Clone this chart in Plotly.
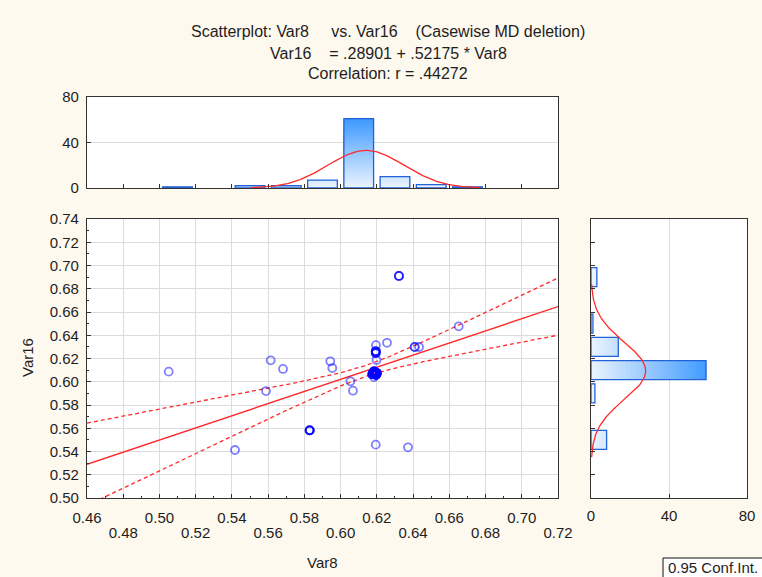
import numpy as np
import plotly.graph_objects as go

# ---------------- data ----------------
# scatter points (repeated entries = overlapping cases)
var8 = [0.5051, 0.5417, 0.5588, 0.5614, 0.5682,
        0.5829, 0.5829, 0.5829, 0.5829, 0.5829,
        0.5943, 0.5954, 0.6054, 0.6068,
        0.6195, 0.6194, 0.6194, 0.6194, 0.6194,
        0.6194, 0.6194, 0.6194, 0.6198, 0.6256,
        0.6322, 0.6322, 0.6322, 0.6194, 0.6372,
        0.6409, 0.6409, 0.6433, 0.6652, 0.6185,
        0.6180, 0.6180, 0.6180, 0.6180, 0.6180, 0.6180,
        0.6190, 0.6190, 0.6190, 0.6190, 0.6190, 0.6190, 0.6190, 0.6190,
        0.6195, 0.6195, 0.6195, 0.6195, 0.6195, 0.6195,
        0.6185, 0.6185, 0.6185, 0.6185, 0.6185,
        0.6200, 0.6200, 0.6200, 0.6200, 0.6200,
        0.6175, 0.6175, 0.6175, 0.6175]
var16 = [0.6087, 0.5413, 0.5920, 0.6184, 0.6110,
         0.5582, 0.5582, 0.5582, 0.5582, 0.5582,
         0.6176, 0.6118, 0.6004, 0.5923,
         0.6315, 0.6262, 0.6262, 0.6262, 0.6262,
         0.6247, 0.6247, 0.6247, 0.6187, 0.6335,
         0.6910, 0.6910, 0.6910, 0.5459, 0.5436,
         0.6299, 0.6299, 0.6299, 0.6477, 0.6040,
         0.6080, 0.6080, 0.6080, 0.6080, 0.6080, 0.6080,
         0.6070, 0.6070, 0.6070, 0.6070, 0.6070, 0.6070, 0.6070, 0.6070,
         0.6060, 0.6060, 0.6060, 0.6060, 0.6060, 0.6060,
         0.6090, 0.6090, 0.6090, 0.6090, 0.6090,
         0.6075, 0.6075, 0.6075, 0.6075, 0.6075,
         0.6065, 0.6065, 0.6065, 0.6065]

# histogram of Var8 (top)
var8_bins = [0.51, 0.55, 0.57, 0.59, 0.61, 0.63, 0.65, 0.67]
var8_counts = [1, 2, 2, 7, 61, 10, 3, 1]
# histogram of Var16 (right)
var16_bins = [0.55, 0.59, 0.61, 0.63, 0.65, 0.69]
var16_counts = [8, 2, 59, 14, 1, 3]

# regression statistics
n_cases = 87
intercept = 0.28901
slope = 0.52175
r_corr = 0.44272
mean8 = 0.614
sd8 = 0.021
bin_w = 0.02
t_crit = 1.988

x_ticks = [0.46, 0.48, 0.50, 0.52, 0.54, 0.56, 0.58, 0.60, 0.62, 0.64, 0.66, 0.68, 0.70, 0.72]
x_ticks_row1 = x_ticks[0::2]
x_ticks_row2 = x_ticks[1::2]
y_ticks = [0.50, 0.52, 0.54, 0.56, 0.58, 0.60, 0.62, 0.64, 0.66, 0.68, 0.70, 0.72, 0.74]
count_ticks = [0, 40, 80]

# ---------------- derived ----------------
sd16 = sd8 * slope / r_corr
mean16 = intercept + slope * mean8
sxx = (n_cases - 1) * sd8 ** 2
se = sd16 * np.sqrt(1 - r_corr ** 2) * np.sqrt((n_cases - 1) / (n_cases - 2))

W, H = 762, 577
FONT = "Liberation Sans, Arial, sans-serif"
TXT = "#1e1e1e"
BG = "#FEF9EE"
RED = "#FF2A2A"
BAR_LINE = "#2362D6"


def px(xp):
    return xp / W


def py(yp):
    return 1 - yp / H


fig = go.Figure()

# ---- main scatter ----
xl = np.linspace(x_ticks[0], x_ticks[-1], 200)
yl = intercept + slope * xl
hw = t_crit * se * np.sqrt(1 / n_cases + (xl - mean8) ** 2 / sxx)
fig.add_trace(go.Scatter(x=xl, y=yl + hw, mode="lines",
                         line=dict(color=RED, width=1.3, dash="4px,3px"),
                         xaxis="x", yaxis="y", showlegend=False))
fig.add_trace(go.Scatter(x=xl, y=yl - hw, mode="lines",
                         line=dict(color=RED, width=1.3, dash="4px,3px"),
                         xaxis="x", yaxis="y", showlegend=False))
fig.add_trace(go.Scatter(x=xl, y=yl, mode="lines",
                         line=dict(color=RED, width=1.4),
                         xaxis="x", yaxis="y", showlegend=False))
for xv, yv in zip(var8, var16):
    fig.add_trace(go.Scatter(x=[xv], y=[yv], mode="markers",
                             marker=dict(symbol="circle-open", size=8,
                                         color="rgba(0,0,255,0.5)",
                                         line=dict(width=1.8)),
                             xaxis="x", yaxis="y", showlegend=False))
# carrier for the second row of x tick labels
fig.add_trace(go.Scatter(x=x_ticks_row2, y=[None] * len(x_ticks_row2), mode="markers",
                         xaxis="x4", yaxis="y", showlegend=False, hoverinfo="skip"))


# ---- gradient bars (value-based gradient) ----
def grad_color(v, vmax=62.0):
    t = min(max(v / vmax, 0), 1)
    c0 = np.array([236, 245, 255])
    c1 = np.array([58, 152, 255])
    c = c0 + (c1 - c0) * t
    return "rgb(%d,%d,%d)" % tuple(c.astype(int))


levels = list(np.arange(62, 0, -2.0))
for L in levels:
    top = [min(c, L) for c in var8_counts]
    fig.add_trace(go.Bar(x=var8_bins, y=top, marker=dict(color=grad_color(L - 1), line=dict(width=0)),
                         xaxis="x2", yaxis="y2", showlegend=False))
    right = [min(c, L) for c in var16_counts]
    fig.add_trace(go.Bar(y=var16_bins, x=right, orientation="h",
                         marker=dict(color=grad_color(L - 1), line=dict(width=0)),
                         xaxis="x3", yaxis="y3", showlegend=False))
fig.add_trace(go.Bar(x=var8_bins, y=var8_counts,
                     marker=dict(color="rgba(0,0,0,0)", line=dict(color=BAR_LINE, width=1.3)),
                     xaxis="x2", yaxis="y2", showlegend=False))
fig.add_trace(go.Bar(y=var16_bins, x=var16_counts, orientation="h",
                     marker=dict(color="rgba(0,0,0,0)", line=dict(color=BAR_LINE, width=1.3)),
                     xaxis="x3", yaxis="y3", showlegend=False))

# ---- normal fit curves ----
xn = np.linspace(mean8 - 3 * sd8, mean8 + 3 * sd8, 200)
yn = n_cases * bin_w * np.exp(-0.5 * ((xn - mean8) / sd8) ** 2) / (sd8 * np.sqrt(2 * np.pi))
fig.add_trace(go.Scatter(x=xn, y=yn, mode="lines", line=dict(color=RED, width=1.3),
                         xaxis="x2", yaxis="y2", showlegend=False))
yn2 = np.linspace(mean16 - 3 * sd16, mean16 + 3 * sd16, 200)
xn2 = n_cases * bin_w * np.exp(-0.5 * ((yn2 - mean16) / sd16) ** 2) / (sd16 * np.sqrt(2 * np.pi))
fig.add_trace(go.Scatter(x=xn2, y=yn2, mode="lines", line=dict(color=RED, width=1.3),
                         xaxis="x3", yaxis="y3", showlegend=False))

# ---- layout ----
main_x = [px(87), px(558)]
main_y = [py(498), py(219)]
top_y = [py(188), py(97)]
right_x = [px(591), px(747)]

tick_font = dict(family=FONT, size=15, color=TXT)
frame = dict(showline=True, linecolor="#333333", linewidth=1.2, mirror=True, zeroline=False,
             automargin=False)

y_text = ["%.2f" % v for v in y_ticks]

fig.update_layout(
    width=W, height=H,
    margin=dict(l=0, r=0, t=0, b=0, autoexpand=False),
    paper_bgcolor=BG, plot_bgcolor="white",
    barmode="overlay", bargap=0.18,
    font=dict(family=FONT, size=15, color=TXT),
    xaxis=dict(domain=main_x, anchor="y", range=[0.46, 0.72], tickvals=x_ticks,
               ticktext=[("%.2f" % v) if i % 2 == 0 else "" for i, v in enumerate(x_ticks)],
               ticks="inside", ticklen=4, tickcolor="#333", showgrid=True, gridcolor="#DCDCDC",
               minor=dict(ticks="inside", dtick=0.01, tick0=0.46, ticklen=2, tickcolor="#333", showgrid=False),
               tickfont=tick_font, ticklabelstandoff=6, **frame),
    xaxis4=dict(overlaying="x", anchor="y", side="bottom", range=[0.46, 0.72], tickvals=x_ticks_row2,
                ticktext=["%.2f" % v for v in x_ticks_row2], ticks="", showgrid=False, showline=False,
                zeroline=False, automargin=False, tickfont=tick_font, ticklabelstandoff=24),
    yaxis=dict(domain=main_y, anchor="x", range=[0.50, 0.74], tickvals=y_ticks, ticktext=y_text,
               ticks="inside", ticklen=4, tickcolor="#333", showgrid=True, gridcolor="#DCDCDC",
               minor=dict(ticks="inside", dtick=0.01, tick0=0.50, ticklen=2, tickcolor="#333", showgrid=False),
               tickfont=tick_font, ticklabelstandoff=4, **frame),
    xaxis2=dict(domain=main_x, anchor="y2", range=[0.46, 0.72], tickvals=x_ticks, showticklabels=False,
                ticks="inside", ticklen=4, tickcolor="#333", showgrid=False, **frame),
    yaxis2=dict(domain=top_y, anchor="x2", range=[0, 80], tickvals=count_ticks,
                ticks="inside", ticklen=4, tickcolor="#333", showgrid=True, gridcolor="#DCDCDC",
                tickfont=tick_font, ticklabelstandoff=4, **frame),
    xaxis3=dict(domain=right_x, anchor="y3", range=[0, 80], tickvals=count_ticks,
                ticks="inside", ticklen=4, tickcolor="#333", showgrid=True, gridcolor="#DCDCDC",
                tickfont=tick_font, ticklabelstandoff=4, **frame),
    yaxis3=dict(domain=main_y, anchor="x3", range=[0.50, 0.74], tickvals=y_ticks, showticklabels=False,
                ticks="inside", ticklen=4, tickcolor="#333", showgrid=False, **frame),
)

NB = "\u00a0"
annots = [
    ("Scatterplot: Var8" + NB * 5 + "vs. Var16" + NB * 4 + "(Casewise MD deletion)", 388, 32),
    ("Var16" + NB * 4 + "= .28901 + .52175 * Var8", 388, 53),
    ("Correlation: r = .44272", 388, 73),
]
for txt, xp, yp in annots:
    fig.add_annotation(text=txt, x=px(xp), y=py(yp), xref="paper", yref="paper",
                       showarrow=False, xanchor="center", yanchor="middle",
                       font=dict(family=FONT, size=16, color=TXT))

fig.add_annotation(text="Var8", x=px(322), y=py(562), xref="paper", yref="paper",
                   showarrow=False, xanchor="center", yanchor="middle",
                   font=dict(family=FONT, size=15, color=TXT))
fig.add_annotation(text="Var16", x=px(27), y=py(358), xref="paper", yref="paper",
                   showarrow=False, xanchor="center", yanchor="middle", textangle=-90,
                   font=dict(family=FONT, size=15, color=TXT))
# legend box (partly outside the picture, as in the original)
fig.add_shape(type="rect", xref="paper", yref="paper", x0=px(663), x1=px(775), y0=py(585), y1=py(558),
              line=dict(color="#111", width=1), fillcolor="#FFFFFF", layer="above")
fig.add_annotation(text="0.95 Conf.Int.", x=px(666), y=py(567.5), xref="paper", yref="paper",
                   showarrow=False, xanchor="left", yanchor="middle",
                   font=dict(family=FONT, size=15, color=TXT))

fig.write_html("out.html", config={"displayModeBar": False},
               post_script="document.body.style.margin='0';")
